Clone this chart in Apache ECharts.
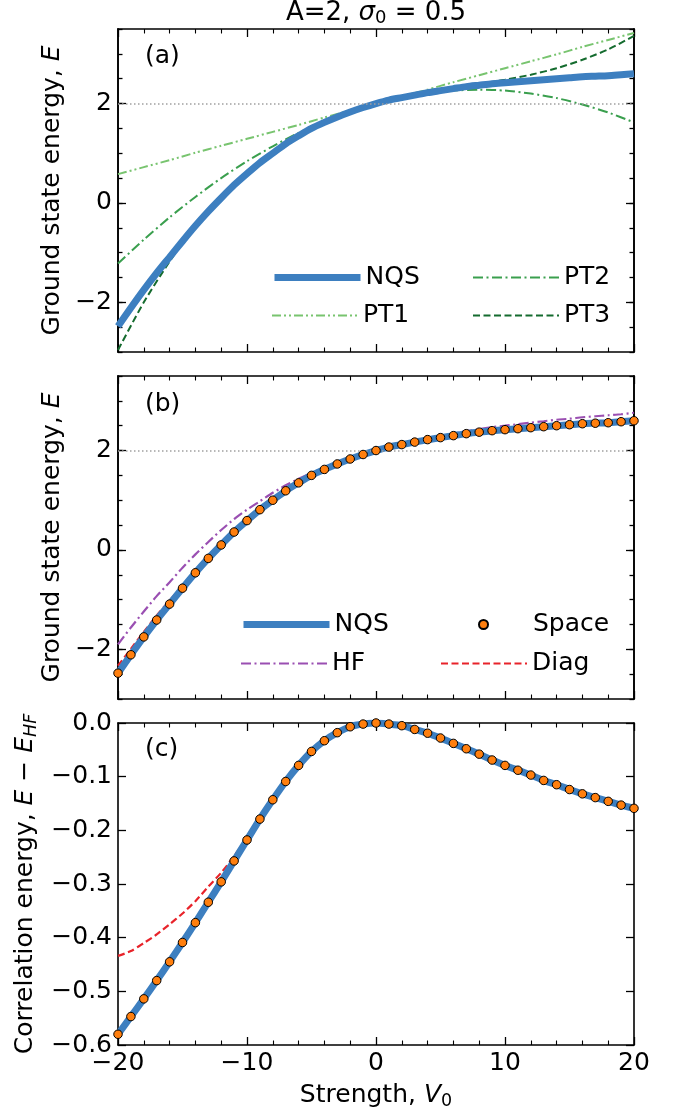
<!DOCTYPE html>
<html>
<head>
<meta charset="utf-8">
<script src="https://cdn.jsdelivr.net/npm/echarts@6/dist/echarts.min.js"></script>
<style>
  html, body { margin: 0; padding: 0; background: #ffffff; }
  #chart { width: 675px; height: 1110px; }
</style>
</head>
<body>
<div id="chart"></div>
<script>
// ---- data -------------------------------------------------------------
// Interaction strength V0 for the full calculations
const strength = [-20,-19,-18,-17,-16,-15,-14,-13,-12,-11,-10,-9,-8,-7,-6,-5,-4,-3,-2,-1,
                  0,1,2,3,4,5,6,7,8,9,10,11,12,13,14,15,16,17,18,19,20];

// Ground state energies
const nqsEnergy   = [-2.48,-2.11,-1.75,-1.41,-1.09,-0.77,-0.46,-0.17,0.10,0.36,0.59,0.81,1.00,1.19,1.35,1.50,1.62,1.73,1.83,1.92,
                     2.00,2.07,2.12,2.17,2.22,2.26,2.30,2.34,2.37,2.40,2.42,2.44,2.46,2.48,2.50,2.52,2.54,2.55,2.56,2.58,2.60];
const spaceEnergy = [-2.48,-2.11,-1.75,-1.41,-1.09,-0.77,-0.46,-0.17,0.10,0.36,0.59,0.81,1.00,1.19,1.35,1.50,1.62,1.73,1.83,1.92,
                     2.00,2.07,2.12,2.17,2.22,2.26,2.30,2.34,2.37,2.40,2.42,2.44,2.46,2.48,2.50,2.52,2.54,2.55,2.56,2.58,2.60];
const hfEnergy    = [-1.90,-1.56,-1.24,-0.93,-0.65,-0.36,-0.09,0.16,0.40,0.62,0.81,0.98,1.15,1.30,1.43,1.55,1.65,1.75,1.84,1.92,
                     2.00,2.07,2.13,2.18,2.24,2.29,2.34,2.39,2.43,2.47,2.50,2.53,2.56,2.59,2.62,2.64,2.67,2.69,2.71,2.73,2.76];
const diagEnergy  = [-2.33,-1.99,-1.65,-1.32,-1.02,-0.72,-0.42,-0.14,0.12,0.37,0.59,0.80,1.01,1.19,1.35,1.50,1.62,1.73,1.83,1.92,
                     2.00,2.07,2.12,2.17,2.22,2.26,2.30,2.34,2.37,2.40,2.42,2.44,2.46,2.48,2.50,2.52,2.54,2.55,2.56,2.58,2.60];

// Correlation energies E - E_HF
const nqsCorrelation   = [-0.580,-0.547,-0.514,-0.480,-0.445,-0.409,-0.372,-0.334,-0.296,-0.257,-0.218,-0.179,-0.143,-0.109,-0.079,-0.053,-0.033,-0.018,-0.007,-0.002,
                          0.000,-0.002,-0.005,-0.012,-0.019,-0.028,-0.038,-0.048,-0.058,-0.069,-0.079,-0.088,-0.097,-0.107,-0.115,-0.124,-0.132,-0.139,-0.146,-0.153,-0.159];
const spaceCorrelation = [-0.580,-0.547,-0.514,-0.480,-0.445,-0.409,-0.372,-0.334,-0.296,-0.257,-0.218,-0.179,-0.143,-0.109,-0.079,-0.053,-0.033,-0.018,-0.007,-0.002,
                          0.000,-0.002,-0.005,-0.012,-0.019,-0.028,-0.038,-0.048,-0.058,-0.069,-0.079,-0.088,-0.097,-0.107,-0.115,-0.124,-0.132,-0.139,-0.146,-0.153,-0.159];
const diagCorrelation  = [-0.434,-0.425,-0.410,-0.394,-0.375,-0.355,-0.332,-0.305,-0.279,-0.248,-0.214,-0.177,-0.143,-0.109,-0.079,-0.053,-0.033,-0.018,-0.007,-0.002,
                          0.000,-0.002,-0.005,-0.012,-0.019,-0.028,-0.038,-0.048,-0.058,-0.069,-0.079,-0.088,-0.097,-0.107,-0.115,-0.124,-0.132,-0.139,-0.146,-0.153,-0.159];

// Perturbation theory orders
const ptStrength = [-20,-18,-16,-14,-12,-10,-8,-6,-4,-2,0,2,4,6,8,10,12,14,16,18,20];
const pt1Energy  = [0.58,0.72,0.86,1.01,1.15,1.29,1.43,1.57,1.72,1.86,2.00,2.14,2.28,2.43,2.57,2.71,2.85,2.99,3.14,3.28,3.42];
const pt2Energy  = [-1.22,-0.74,-0.29,0.12,0.50,0.84,1.14,1.41,1.64,1.84,2.00,2.12,2.21,2.26,2.28,2.26,2.20,2.11,1.98,1.82,1.62];
const pt3Energy  = [-2.96,-2.00,-1.18,-0.47,0.12,0.62,1.03,1.37,1.63,1.84,2.00,2.13,2.23,2.31,2.39,2.48,2.58,2.71,2.88,3.09,3.36];

// Non-interacting reference energy and axis ticks
const referenceEnergy = 2;
const strengthTicks = [-20, -10, 0, 10, 20];
const energyTicks = [-2, 0, 2];
const correlationTicks = [-0.6, -0.5, -0.4, -0.3, -0.2, -0.1, 0.0];

// ---- styling ----------------------------------------------------------
const FONT = 'DejaVu Sans';
const FS = 25;
const C_NQS = '#3d7fc0';
const C_PT1 = '#78c46f';
const C_PT2 = '#3a9f4e';
const C_PT3 = '#146b2e';
const C_HF = '#9a4fb2';
const C_DIAG = '#e8232a';
const C_SPACE = '#ff7f0e';

const minus = s => String(s).replace('-', '\u2212');
const zip = (xs, ys) => xs.map((x, i) => [x, ys[i]]);

const PANEL_TOP = [29, 376, 723];
const PANEL_H = [323, 323, 322];

const grids = PANEL_TOP.map((t, i) => ({
  left: 118, width: 516, top: t, height: PANEL_H[i],
  outerBoundsMode: 'none', containLabel: false
}));

const frameLine = { show: true, onZero: false, lineStyle: { color: '#000', width: 1.6 } };
const majorTick = len => ({ show: true, inside: true, length: len, lineStyle: { color: '#000', width: 1.3 } });

function xAxisFor(g, position, labels) {
  return {
    type: 'value', gridIndex: g, position, min: -20, max: 20, interval: 10,
    axisLine: frameLine,
    axisTick: majorTick(8),
    minorTick: { show: true, splitNumber: 5, length: 4.5, lineStyle: { color: '#000', width: 1.1 } },
    splitLine: { show: false }, minorSplitLine: { show: false },
    axisLabel: labels ? {
      show: true, margin: 6, color: '#000', fontFamily: FONT, fontSize: FS,
      customValues: strengthTicks, formatter: v => minus(v)
    } : { show: false },
    name: labels ? 'Strength, {it|V}{sub|0}' : '',
    nameLocation: 'middle', nameGap: 36,
    nameTextStyle: {
      color: '#000', fontFamily: FONT, fontSize: FS,
      rich: {
        it: { fontFamily: FONT, fontSize: FS, fontStyle: 'italic', color: '#000' },
        sub: { fontFamily: FONT, fontSize: 17.5, color: '#000', padding: [11, 0, 0, 0] }
      }
    }
  };
}

const energyName = 'Ground state energy, {it|E}';
const correlationName = 'Correlation energy, {it|E} \u2212 {it|E}{subit|HF}';
const nameStyle = {
  color: '#000', fontFamily: FONT, fontSize: FS,
  rich: {
    it: { fontFamily: FONT, fontSize: FS, fontStyle: 'italic', color: '#000' },
    subit: { fontFamily: FONT, fontSize: 17.5, fontStyle: 'italic', color: '#000', padding: [11, 0, 0, 0] }
  }
};

// energy panels: a dense axis for the 0.5 minor ticks and one for the labelled majors
function energyAxes(g) {
  const base = { type: 'value', gridIndex: g, min: -3, max: 3.5, splitLine: { show: false }, axisLine: frameLine };
  const minorAxis = pos => Object.assign({}, base, {
    position: pos, interval: 0.5,
    axisTick: majorTick(4.5), axisLabel: { show: false }
  });
  const majorAxis = (pos, labels) => Object.assign({}, base, {
    position: pos,
    axisTick: Object.assign(majorTick(8), { customValues: energyTicks }),
    axisLabel: labels ? {
      show: true, margin: 6, color: '#000', fontFamily: FONT, fontSize: FS,
      customValues: energyTicks, formatter: v => minus(v)
    } : { show: false }
  });
  const left = minorAxis('left');
  left.name = energyName; left.nameLocation = 'middle'; left.nameGap = 53; left.nameTextStyle = nameStyle;
  return [left, majorAxis('left', true), minorAxis('right'), majorAxis('right', false)];
}

function correlationAxes(g) {
  const base = {
    type: 'value', gridIndex: g, min: -0.6, max: 0, interval: 0.1,
    splitLine: { show: false }, axisLine: frameLine, axisTick: majorTick(8)
  };
  const left = Object.assign({}, base, {
    position: 'left',
    axisLabel: {
      show: true, margin: 6, color: '#000', fontFamily: FONT, fontSize: FS,
      customValues: correlationTicks,
      formatter: v => (v < -1e-9 ? '\u2212' : '') + Math.abs(v).toFixed(1)
    },
    name: correlationName, nameLocation: 'middle', nameGap: 77, nameTextStyle: nameStyle
  });
  const right = Object.assign({}, base, { position: 'right', axisLabel: { show: false } });
  return [left, right];
}

const xAxes = [
  xAxisFor(0, 'bottom', false), xAxisFor(0, 'top', false),
  xAxisFor(1, 'bottom', false), xAxisFor(1, 'top', false),
  xAxisFor(2, 'bottom', true),  xAxisFor(2, 'top', false)
];
const yAxes = [].concat(energyAxes(0), energyAxes(1), correlationAxes(2));
// series axis indices per panel
const AX = [{ x: 0, y: 0 }, { x: 2, y: 4 }, { x: 4, y: 8 }];

const refLine = {
  silent: true, symbol: 'none', label: { show: false },
  lineStyle: { color: '#a0a0a0', width: 1.5, type: [1.5, 2.5] },
  emphasis: { disabled: true },
  data: [{ yAxis: referenceEnergy }]
};

function lineSeries(name, panel, data, color, width, dash, extra) {
  return Object.assign({
    name, type: 'line', xAxisIndex: AX[panel].x, yAxisIndex: AX[panel].y,
    data, symbol: 'none', showSymbol: false, smooth: 0.25,
    lineStyle: { color, width, type: dash, cap: 'butt' },
    itemStyle: { color },
    emphasis: { disabled: true }, animation: false
  }, extra || {});
}
function spaceSeries(panel, data) {
  return {
    name: 'Space', type: 'scatter', xAxisIndex: AX[panel].x, yAxisIndex: AX[panel].y,
    data, symbol: 'circle', symbolSize: 8.5,
    itemStyle: { color: C_SPACE, borderColor: '#000', borderWidth: 1, opacity: 1 },
    emphasis: { disabled: true }, animation: false, z: 5
  };
}

const series = [
  // (a)
  lineSeries('PT1', 0, zip(ptStrength, pt1Energy), C_PT1, 2, [9, 3, 2, 3, 2, 3], { markLine: refLine }),
  lineSeries('PT2', 0, zip(ptStrength, pt2Energy), C_PT2, 2, [10, 3.5, 2, 3.5]),
  lineSeries('PT3', 0, zip(ptStrength, pt3Energy), C_PT3, 2, [7, 3.5]),
  lineSeries('NQS', 0, zip(strength, nqsEnergy), C_NQS, 7, 'solid'),
  // (b)
  lineSeries('Diag', 1, zip(strength, diagEnergy), C_DIAG, 2.2, [7, 3.5], { markLine: refLine }),
  lineSeries('HF', 1, zip(strength, hfEnergy), C_HF, 2.2, [10, 3.5, 2, 3.5]),
  lineSeries('NQS', 1, zip(strength, nqsEnergy), C_NQS, 7, 'solid'),
  spaceSeries(1, zip(strength, spaceEnergy)),
  // (c)
  lineSeries('Diag', 2, zip(strength, diagCorrelation), C_DIAG, 2.2, [7, 3.5]),
  lineSeries('NQS', 2, zip(strength, nqsCorrelation), C_NQS, 7, 'solid'),
  spaceSeries(2, zip(strength, spaceCorrelation))
];

// one legend block per entry, laid out in two columns like the panel legends
function legendEntry(name, left, centerY, opts) {
  return Object.assign({
    data: [name], left, top: centerY - 11, orient: 'horizontal',
    padding: 0, itemGap: 0, itemWidth: 86, itemHeight: 12,
    selectedMode: false,
    textStyle: { color: '#000', fontFamily: FONT, fontSize: FS },
    itemStyle: { opacity: 0 },
    lineStyle: { width: 2 }
  }, opts || {});
}
const legends = [
  legendEntry('NQS', 271, 276, { lineStyle: { width: 7 } }),
  legendEntry('PT1', 271, 314),
  legendEntry('PT2', 472, 276),
  legendEntry('PT3', 472, 314),
  legendEntry('NQS', 240, 623, { lineStyle: { width: 7 } }),
  legendEntry('HF', 240, 662),
  legendEntry('Space', 478, 623, {
    itemWidth: 9, itemHeight: 9, itemStyle: {},
    textStyle: { color: '#000', fontFamily: FONT, fontSize: FS, padding: [0, 0, 0, 40] }
  }),
  legendEntry('Diag', 440, 662)
];

const textStyleBase = { fontFamily: FONT, fontSize: FS, fill: '#000' };
const graphics = [
  { type: 'text', x: 376, y: 13, style: Object.assign({}, textStyleBase, {
      text: 'A=2, {it|\u03c3}{sub|0} = 0.5', fontSize: 26, textAlign: 'center', textVerticalAlign: 'middle',
      rich: {
        it: { fontFamily: FONT, fontSize: 26, fontStyle: 'italic', fill: '#000' },
        sub: { fontFamily: FONT, fontSize: 18, fill: '#000', padding: [11, 0, 0, 0] }
      } }) },
  { type: 'text', x: 145, y: 56, style: Object.assign({}, textStyleBase, { text: '(a)', textAlign: 'left', textVerticalAlign: 'middle' }) },
  { type: 'text', x: 145, y: 404, style: Object.assign({}, textStyleBase, { text: '(b)', textAlign: 'left', textVerticalAlign: 'middle' }) },
  { type: 'text', x: 145, y: 749, style: Object.assign({}, textStyleBase, { text: '(c)', textAlign: 'left', textVerticalAlign: 'middle' }) }
];

const chart = echarts.init(document.getElementById('chart'), null, { renderer: 'canvas' });
chart.setOption({
  animation: false,
  backgroundColor: '#ffffff',
  textStyle: { fontFamily: FONT },
  grid: grids,
  xAxis: xAxes,
  yAxis: yAxes,
  legend: legends,
  series,
  graphic: graphics
});
</script>
</body>
</html>
